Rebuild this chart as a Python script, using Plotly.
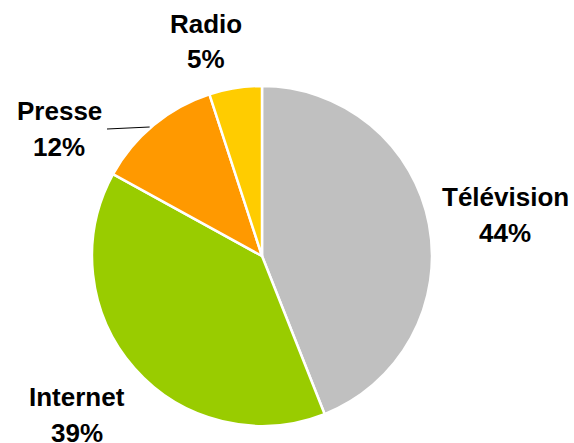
import math
import plotly.graph_objects as go

# Media share of advertising spend
categories = ["Télévision", "Internet", "Presse", "Radio"]
shares = [44, 39, 12, 5]
colors = ["#C0C0C0", "#99CC00", "#FF9900", "#FFCC00"]

W, H = 574, 443
cx, cy, r = 262, 256, 170

fig = go.Figure(go.Pie(
    labels=categories,
    values=shares,
    sort=False,
    direction="clockwise",
    rotation=0,
    textinfo="none",
    hoverinfo="label+percent",
    marker=dict(colors=colors, line=dict(color="white", width=2.5)),
    domain=dict(x=[(cx - r) / W, (cx + r) / W], y=[1 - (cy + r) / H, 1 - (cy - r) / H]),
    showlegend=False,
))

# label anchor positions (pixel centre x, name baseline, percent baseline)
label_pos = {
    "Télévision": (505, 206, 242),
    "Internet": (77, 406, 442),
    "Presse": (59, 120, 156),
    "Radio": (206, 33, 68),
}

font = dict(family="Liberation Sans, Arial, sans-serif", size=26, color="black")
annotations = []
for name, val in zip(categories, shares):
    x, b1, b2 = label_pos[name]
    for text, base in ((name, b1), (f"{val}%", b2)):
        annotations.append(dict(
            x=x / W, y=1 - (base - 9) / H, xref="paper", yref="paper",
            text=f"<b>{text}</b>", showarrow=False, font=font,
            xanchor="center", yanchor="middle",
        ))

# leader line from the Presse label to its slice edge
cum = sum(shares[:2]) + shares[2] / 2
ang = 2 * math.pi * cum / sum(shares)
ex, ey = cx + r * math.sin(ang) - 4, cy - r * math.cos(ang) + 2
shapes = [dict(type="line", xref="paper", yref="paper",
               x0=107 / W, y0=1 - 129 / H, x1=ex / W, y1=1 - ey / H,
               line=dict(color="black", width=1))]

fig.update_layout(
    width=W, height=H,
    margin=dict(l=0, r=0, t=0, b=0),
    paper_bgcolor="white", plot_bgcolor="white",
    annotations=annotations, shapes=shapes,
)

fig.write_html("out.html")
